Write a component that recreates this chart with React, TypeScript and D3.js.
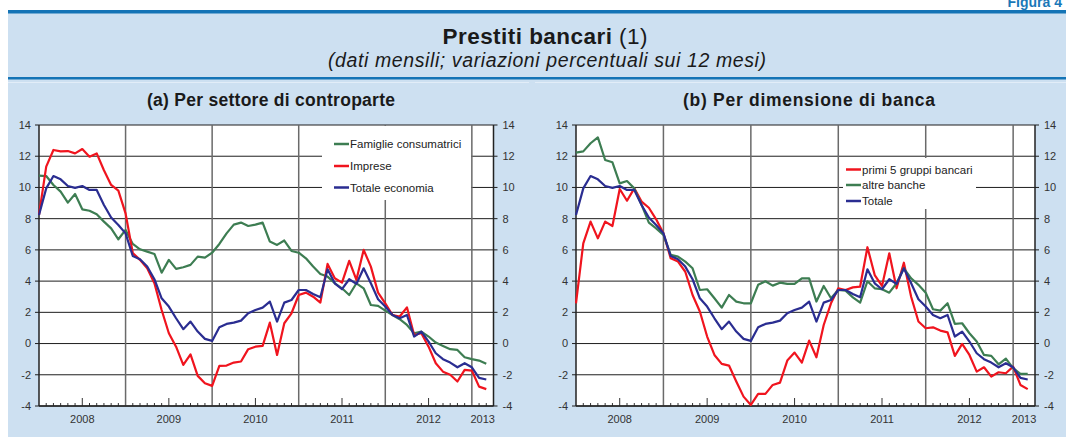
import React from "react";
import * as d3 from "d3";

// monthly data, Jan 2008 .. Mar 2013 (63 points)
const famiglie = [
  10.76, 10.73, 10.16, 9.73, 9.03, 9.58, 8.6, 8.51, 8.28, 7.81, 7.38, 6.68,
  7.28, 6.38, 6.04, 5.89, 5.74, 4.54, 5.36, 4.78, 4.89, 5.04, 5.57, 5.5,
  5.82, 6.38, 7.06, 7.62, 7.75, 7.53, 7.62, 7.75, 6.53, 6.32, 6.6, 5.93,
  5.82, 5.46, 4.93, 4.46, 4.29, 3.86, 3.54, 3.11, 3.86, 3.54, 2.47, 2.41,
  2.11, 1.83, 1.56, 1.19, 0.66, 0.77, 0.45, 0.06, -0.15, -0.36, -0.41, -0.88,
  -1.0, -1.09, -1.3,
];
const imprese = [
  8.24, 11.33, 12.4, 12.31, 12.33, 12.18, 12.46, 11.97, 12.18, 11.1, 10.16, 9.8,
  8.34, 5.8, 5.36, 4.82, 3.86, 2.15, 0.66, -0.2, -1.37, -0.69, -2.07, -2.54,
  -2.71, -1.43, -1.41, -1.22, -1.15, -0.36, -0.2, -0.15, 1.34, -0.73, 1.3, 1.94,
  3.11, 3.26, 3.0, 2.62, 5.1, 4.18, 3.9, 5.3, 4.08, 6.0, 4.93, 3.26,
  2.58, 1.83, 1.73, 2.32, 0.55, 0.66, -0.2, -1.26, -1.8, -2.0, -2.43, -1.69,
  -1.73, -2.76, -2.92,
];
const totale = [
  8.24, 9.94, 10.73, 10.52, 10.09, 9.97, 10.09, 9.84, 9.84, 8.88, 8.07, 7.6,
  7.06, 5.61, 5.4, 4.93, 4.12, 2.9, 2.37, 1.62, 0.92, 1.41, 0.77, 0.3,
  0.17, 1.04, 1.26, 1.34, 1.47, 1.94, 2.15, 2.3, 2.69, 1.41, 2.62, 2.79,
  3.43, 3.43, 3.17, 2.96, 4.76, 3.86, 3.48, 4.12, 3.82, 4.82, 3.86, 2.84,
  2.37, 1.83, 1.62, 1.83, 0.45, 0.77, 0.13, -0.62, -1.0, -1.22, -1.52, -1.26,
  -1.52, -2.2, -2.3,
];
const primi5 = [
  2.58, 6.42, 7.81, 6.74, 7.81, 7.53, 9.9, 9.15, 9.94, 9.09, 8.7, 7.96,
  7.06, 5.46, 5.25, 4.6, 3.11, 2.05, 0.45, -0.73, -1.3, -1.41, -2.43, -3.4,
  -3.93, -3.22, -3.22, -2.65, -2.5, -1.09, -0.58, -1.22, 0.19, -0.88, 1.19, 2.58,
  3.54, 3.43, 3.6, 3.65, 6.17, 4.39, 3.69, 5.78, 3.54, 5.18, 3.0, 1.41,
  0.98, 1.04, 0.83, 0.72, -0.79, -0.02, -0.73, -1.8, -1.52, -2.12, -1.84, -1.9,
  -1.48, -2.65, -2.92,
];
const altreBanche = [
  12.23, 12.31, 12.83, 13.21, 11.76, 11.61, 10.26, 10.41, 9.94, 8.88, 7.75, 7.38,
  6.96, 5.68, 5.57, 5.25, 4.82, 3.43, 3.48, 2.9, 2.3, 3.11, 2.69, 2.58,
  2.58, 3.76, 3.99, 3.71, 3.9, 3.82, 3.82, 4.18, 4.18, 2.69, 3.69, 2.9,
  3.43, 3.39, 2.96, 2.62, 3.99, 3.54, 3.48, 3.26, 3.86, 4.82, 4.18, 3.76,
  3.26, 2.2, 2.11, 2.58, 1.26, 1.3, 0.66, 0.13, -0.73, -0.79, -1.33, -0.96,
  -1.58, -1.94, -1.94,
];

const yearLabels = ["2008", "2009", "2010", "2011", "2012", "2013"];
const yTicks = [-4, -2, 0, 2, 4, 6, 8, 10, 12, 14];

const GREEN = "#3d7d52";
const RED = "#f0141e";
const BLUE = "#2a2d91";
const FONT = "'Liberation Sans', Arial, sans-serif";

const TOP = 125;
const BOTTOM = 406;

type Series = { name: string; values: number[]; color: string };

function Chart({ x0, x1, title, titleX, titleW, series, legend }: {
  x0: number; x1: number; title: string; titleX: number; titleW: number;
  series: Series[];
  legend: { x: number; y: number; w: number; h: number; rowY: number[]; sx: number };
}) {
  const x = d3.scaleLinear().domain([0, 63]).range([x0, x1]);
  const y = d3.scaleLinear().domain([-4, 14]).range([BOTTOM, TOP]);
  const line = d3.line<number>().x((_, i) => x(i)).y(d => y(d));

  const months = d3.range(1, 63).filter(m => m % 12 !== 0);
  const yearLines = [12, 24, 36, 48, 60];
  // label at mid-year; last (partial) year centred on its visible span
  const yearPos = yearLabels.map((_, i) => (i < 5 ? i * 12 + 6 : (60 + 63) / 2));

  return (
    <g>
      <text x={titleX} y={106} textAnchor="middle" fontWeight="bold" fontSize={17.5}
        textLength={titleW} fill="#1a1a1a">{title}</text>
      <rect x={x0} y={TOP} width={x1 - x0} height={BOTTOM - TOP} fill="white" />
      {yTicks.map(t => (
        <g key={t}>
          <line x1={x0 - 4} x2={x1 + 4} y1={y(t)} y2={y(t)} stroke="#1e1e1e" strokeWidth={1} />
          <text x={x0 - 8} y={y(t)} dy="0.35em" textAnchor="end" fontSize={11} fill="#333">{t}</text>
          <text x={x1 + 9} y={y(t)} dy="0.35em" textAnchor="start" fontSize={11} fill="#333">{t}</text>
        </g>
      ))}
      {yearLines.map(m => (
        <line key={m} x1={x(m)} x2={x(m)} y1={TOP} y2={BOTTOM} stroke="#6a6a6a" strokeWidth={1.5} />
      ))}
      {months.map(m => (
        <line key={m} x1={x(m)} x2={x(m)} y1={BOTTOM} y2={BOTTOM - (m % 12 === 6 ? 8 : 3)} stroke="#333" strokeWidth={1} />
      ))}
      <line x1={x0} x2={x0} y1={TOP} y2={BOTTOM} stroke="#222" strokeWidth={1.5} />
      <line x1={x1} x2={x1} y1={TOP} y2={BOTTOM} stroke="#222" strokeWidth={1.5} />
      <line x1={x0} x2={x1} y1={BOTTOM} y2={BOTTOM} stroke="#222" strokeWidth={1.5} />
      {yearLabels.map((l, i) => (
        <text key={l} x={x(yearPos[i])} y={423} textAnchor="middle" fontSize={11} fill="#333">{l}</text>
      ))}
      <rect x={legend.x} y={legend.y} width={legend.w} height={legend.h} fill="white" />
      {series.map(s => (
        <path key={s.name} d={line(s.values) || ""} fill="none" stroke={s.color} strokeWidth={2.2} strokeLinejoin="round" />
      ))}
      {series.map((s, i) => (
        <g key={s.name}>
          <line x1={legend.sx} x2={legend.sx + 15} y1={legend.rowY[i]} y2={legend.rowY[i]} stroke={s.color} strokeWidth={2.5} />
          <text x={legend.sx + 16} y={legend.rowY[i]} dy="0.35em" fontSize={11.5} fill="#222">{s.name}</text>
        </g>
      ))}
    </g>
  );
}

export default function App() {
  return (
    <svg width={1066} height={437} style={{ position: "absolute", left: 0, top: 0, fontFamily: FONT }}>
      <rect x={0} y={0} width={1066} height={437} fill="white" />
      <text x={1062} y={7} textAnchor="end" fontSize={14} fontWeight="bold" fill="#1a78b8">Figura 4</text>
      <rect x={8} y={13} width={1058} height={424} fill="#cde0f1" />
      <rect x={8} y={10} width={1058} height={3.5} fill="#1474b6" />
      <rect x={8} y={77} width={1058} height={2.5} fill="#1474b6" />
      <rect x={8} y={82} width={521} height={1} fill="#e2edf8" />
      <rect x={535} y={82} width={531} height={1} fill="#e2edf8" />
      <text x={545} y={44} textAnchor="middle" fontSize={22.5} textLength={205} fill="#1a1a1a">
        <tspan fontWeight="bold">Prestiti bancari</tspan> (1)
      </text>
      <text x={547} y={67} textAnchor="middle" fontSize={19.5} textLength={438} fontStyle="italic" fill="#1a1a1a">
        (dati mensili; variazioni percentuali sui 12 mesi)
      </text>
      <Chart
        x0={39} x1={493.5} title="(a) Per settore di controparte" titleX={271} titleW={248}
        series={[
          { name: "Famiglie consumatrici", values: famiglie, color: GREEN },
          { name: "Imprese", values: imprese, color: RED },
          { name: "Totale economia", values: totale, color: BLUE },
        ]}
        legend={{ x: 322, y: 126, w: 149, h: 74, rowY: [144, 166, 187.5], sx: 334 }}
      />
      <Chart
        x0={576} x1={1035} title="(b) Per dimensione di banca" titleX={809} titleW={252}
        series={[
          { name: "primi 5 gruppi bancari", values: primi5, color: RED },
          { name: "altre banche", values: altreBanche, color: GREEN },
          { name: "Totale", values: totale, color: BLUE },
        ]}
        legend={{ x: 843, y: 158, w: 133, h: 51, rowY: [169.5, 185, 201], sx: 846 }}
      />
    </svg>
  );
}
